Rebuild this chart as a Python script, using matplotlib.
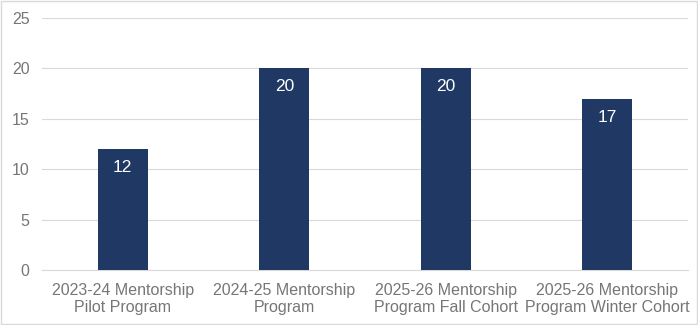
import matplotlib
matplotlib.use("Agg")
import matplotlib.pyplot as plt
from matplotlib.patches import Rectangle

categories = ["2023-24 Mentorship\nPilot Program", "2024-25 Mentorship\nProgram",
              "2025-26 Mentorship\nProgram Fall Cohort", "2025-26 Mentorship\nProgram Winter Cohort"]
values = [12, 20, 20, 17]
yticks = [0, 5, 10, 15, 20, 25]

plt.rcParams['font.family'] = ['Liberation Sans', 'DejaVu Sans']
fig = plt.figure(figsize=(6.98, 3.25), dpi=100)
ax = fig.add_axes([0.060, 0.169, 0.926, 0.776])
x = range(len(values))
bars = ax.bar(x, values, width=0.31, color="#203864", zorder=3)
for b, v in zip(bars, values):
    ax.annotate(str(v), (b.get_x() + b.get_width() / 2, v), xytext=(0, -8),
                textcoords="offset points", ha="center", va="top",
                color="white", fontsize=12.5)
ax.set_xlim(-0.5, len(values) - 0.5)
ax.set_ylim(0, 25)
ax.set_yticks(yticks)
ax.set_xticks(list(x))
ax.set_xticklabels(categories, linespacing=1.2)
ax.tick_params(axis="both", length=0, colors="#767676", labelsize=11.5)
ax.tick_params(axis="x", pad=9)
ax.tick_params(axis="y", pad=9)
ax.grid(axis="y", color="#d9d9d9", linewidth=0.8, zorder=0)
for s in ["top", "right", "left"]:
    ax.spines[s].set_visible(False)
ax.spines["bottom"].set_color("#d9d9d9")
fig.patches.append(Rectangle((0.002, 0.003), 0.996, 0.994, transform=fig.transFigure,
                             fill=False, edgecolor="#d9d9d9", linewidth=1))
fig.savefig("out.png", dpi=100)
